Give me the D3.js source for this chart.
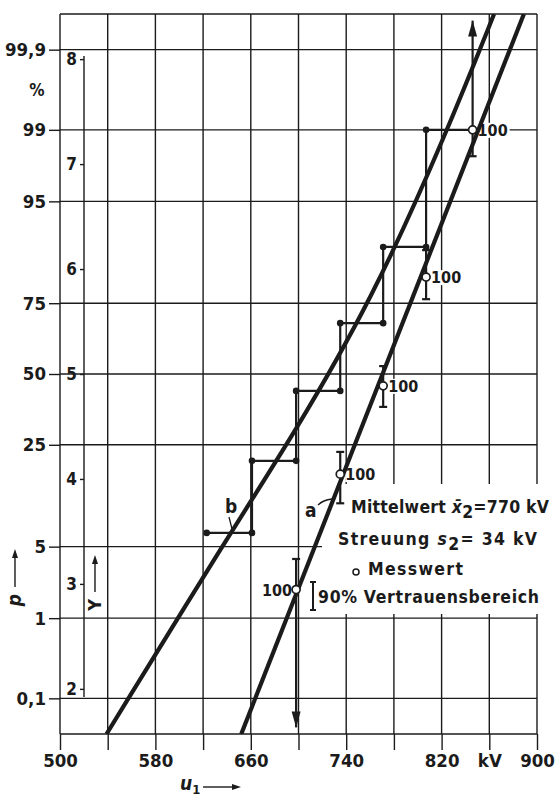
<!DOCTYPE html>
<html><head><meta charset="utf-8">
<script src="https://cdn.jsdelivr.net/npm/d3@7"></script>
<style>
body{margin:0;background:#fff}
svg{display:block}
text{font-family:"DejaVu Sans Condensed","DejaVu Sans",sans-serif;fill:#1b1b1b;font-weight:bold}
</style>
</head><body>
<svg id="c" width="555" height="797"></svg>
<script>
// ---- data ----
const uTicks=[500,540,580,620,660,700,740,780,820,860,900];
const uLabels=["500","","580","","660","","740","","820","kV","900"];
const pTicks=[0.1,1,5,25,50,75,95,99,99.9];
const pLabels=["0,1","1","5","25","50","75","95","99","99,9"];
const yTicks=[2,3,4,5,6,7,8];
// fitted lines (u in kV, Y in probit units)
const lineAU=[652,889];
const lineAY=[1.57,8.43];
const lineBU=[539,643,693,762,825,864];
const lineBY=[1.57,3.49,4.37,5.71,7.32,8.43];
// staircase (empirical sum curve)
const stepU=[623,661,698,735,771,807,846];
const stepP=[6.5,20.4,43.6,68.6,88.7,99.0];
// measured values with 90% confidence ranges
const measU=[698,735,771,807,846];
const measP=[2.0,17,45.5,82.2,99.0];
const ciLowP=[0.038,10.9,37.7,76.2,98.1];
const ciHighP=[3.9,22.9,53,88.1,99.962];
const ciArrow=["low",null,null,null,"high"];
const measN=["100","100","100","100","100"];
const labelSide=["left","right","right","right","right"];

// ---- helpers ----
function invNorm(p){
 const a=[-3.969683028665376e+01,2.209460984245205e+02,-2.759285104469687e+02,1.383577518672690e+02,-3.066479806614716e+01,2.506628277459239e+00];
 const b=[-5.447609879822406e+01,1.615858368580409e+02,-1.556989798598866e+02,6.680131188771972e+01,-1.328068155288572e+01];
 const c=[-7.784894002430293e-03,-3.223964580411365e-01,-2.400758277161838e+00,-2.549732539343734e+00,4.374664141464968e+00,2.938163982698783e+00];
 const d=[7.784695709041462e-03,3.224671290700398e-01,2.445134137142996e+00,3.754408661907416e+00];
 const pl=0.02425,ph=1-pl;let q,r;
 if(p<pl){q=Math.sqrt(-2*Math.log(p));return (((((c[0]*q+c[1])*q+c[2])*q+c[3])*q+c[4])*q+c[5])/((((d[0]*q+d[1])*q+d[2])*q+d[3])*q+1);}
 if(p<=ph){q=p-0.5;r=q*q;return (((((a[0]*r+a[1])*r+a[2])*r+a[3])*r+a[4])*r+a[5])*q/(((((b[0]*r+b[1])*r+b[2])*r+b[3])*r+b[4])*r+1);}
 q=Math.sqrt(-2*Math.log(1-p));return -(((((c[0]*q+c[1])*q+c[2])*q+c[3])*q+c[4])*q+c[5])/((((d[0]*q+d[1])*q+d[2])*q+d[3])*q+1);
}
const probit=p=>5+invNorm(p/100);

const svg=d3.select("#c");
const ink="#1b1b1b";
const FONT='"DejaVu Sans Condensed","DejaVu Sans",sans-serif';
const x=d3.scaleLinear().domain([500,900]).range([60,537]);
const y=d3.scaleLinear().domain([1.57,8.43]).range([734,14]);
const yp=p=>y(probit(p));
const L=60,R=537,T=14,B=734;

svg.append("defs").append("clipPath").attr("id","clip")
 .append("rect").attr("x",L).attr("y",T).attr("width",R-L).attr("height",B-T);

// ---- grid ----
const grid=svg.append("g").attr("stroke",ink).attr("stroke-width",1.4);
grid.selectAll("line.v").data(uTicks).join("line")
 .attr("x1",d=>x(d)).attr("x2",d=>x(d)).attr("y1",T).attr("y2",B);
grid.selectAll("line.h").data(pTicks).join("line")
 .attr("x1",L).attr("x2",R).attr("y1",d=>yp(d)).attr("y2",d=>yp(d));
grid.append("line").attr("x1",L).attr("x2",R).attr("y1",T).attr("y2",T);
grid.append("line").attr("x1",L).attr("x2",R).attr("y1",B).attr("y2",B);

// ---- axes ----
const gx=svg.append("g").attr("transform",`translate(0,${B})`)
 .call(d3.axisBottom(x).tickValues(uTicks).tickFormat((d,i)=>uLabels[i]).tickSize(16).tickPadding(4));
const gp=svg.append("g").attr("transform",`translate(${L},0)`)
 .call(d3.axisLeft(y).tickValues(pTicks.map(probit)).tickFormat((d,i)=>pLabels[i]).tickSize(11).tickPadding(3));
const gy=svg.append("g").attr("transform",`translate(84,0)`)
 .call(d3.axisLeft(y).tickValues(yTicks).tickFormat(d3.format("d")).tickSize(4).tickPadding(3));
[gx,gp,gy].forEach(g=>{
 g.select(".domain").remove();
 g.selectAll(".tick line").attr("stroke",ink).attr("stroke-width",1.4);
 g.selectAll(".tick text").attr("fill",ink).style("font-family",FONT).style("font-weight","bold");
});
gx.selectAll(".tick text").style("font-size","18.5px");
gp.selectAll(".tick text").style("font-size","18.5px");
gy.selectAll(".tick text").style("font-size","17px");
svg.append("line").attr("x1",84).attr("x2",84).attr("y1",56).attr("y2",697).attr("stroke",ink).attr("stroke-width",1.4);
svg.append("text").attr("x",37).attr("y",96).attr("text-anchor","middle").style("font-size","17px").text("%");

// ---- white backgrounds (legend & labels) ----
const bg=svg.append("g").attr("fill","#fff");
bg.append("rect").attr("x",322).attr("y",484).attr("width",233).attr("height",130);

// ---- data layer ----
const data=svg.append("g").attr("clip-path","url(#clip)");
data.append("path").attr("d",d3.line().x(d=>x(d[0])).y(d=>y(d[1]))(lineAU.map((u,i)=>[u,lineAY[i]])))
 .attr("fill","none").attr("stroke",ink).attr("stroke-width",4.2);
data.append("path").attr("d",d3.line().curve(d3.curveBasis).x(d=>x(d[0])).y(d=>y(d[1]))(lineBU.map((u,i)=>[u,lineBY[i]])))
 .attr("fill","none").attr("stroke",ink).attr("stroke-width",4.2).attr("stroke-linejoin","round");

// staircase
const stair=[];
stepP.forEach((p,i)=>{stair.push([stepU[i],p]);stair.push([stepU[i+1],p]);});
data.append("path").attr("d",d3.line().x(d=>x(d[0])).y(d=>yp(d[1]))(stair))
 .attr("fill","none").attr("stroke",ink).attr("stroke-width",2.2);
data.selectAll("circle.dot").data(stair.slice(0,-1)).join("circle")
 .attr("cx",d=>x(d[0])).attr("cy",d=>yp(d[1])).attr("r",3.3).attr("fill",ink);

// error bars
const eb=svg.append("g").attr("stroke",ink).attr("stroke-width",2.2).attr("fill",ink);
measU.forEach((u,i)=>{
 const cx=x(u),y1=yp(ciLowP[i]),y2=yp(ciHighP[i]);
 eb.append("line").attr("x1",cx).attr("x2",cx).attr("y1",y1).attr("y2",y2);
 if(ciArrow[i]!=="low") eb.append("line").attr("x1",cx-4).attr("x2",cx+4).attr("y1",y1).attr("y2",y1);
 else eb.append("path").attr("stroke","none").attr("d",`M${cx},${y1}L${cx-4.5},${y1-16}L${cx+4.5},${y1-16}Z`);
 if(ciArrow[i]!=="high") eb.append("line").attr("x1",cx-4).attr("x2",cx+4).attr("y1",y2).attr("y2",y2);
 else eb.append("path").attr("stroke","none").attr("d",`M${cx},${y2}L${cx-4.5},${y2+16}L${cx+4.5},${y2+16}Z`);
});
svg.selectAll("circle.meas").data(measU).join("circle")
 .attr("cx",d=>x(d)).attr("cy",(d,i)=>yp(measP[i])).attr("r",4)
 .attr("fill","#fff").attr("stroke",ink).attr("stroke-width",1.7);

// labels "100"
measU.forEach((u,i)=>{
 const left=labelSide[i]==="left";
 const t=svg.append("text").attr("x",left?x(u)-4:x(u)+5).attr("y",yp(measP[i])+6)
  .attr("text-anchor",left?"end":"start").style("font-size","16px").text(measN[i]);
 const bb=t.node().getBBox();
 bg.append("rect").attr("x",bb.x).attr("y",bb.y+2).attr("width",bb.width+2).attr("height",bb.height-4);
});

// curve labels
svg.append("text").attr("x",305).attr("y",517).style("font-size","19px").text("a");
svg.append("path").attr("d","M318,505 Q323,500 332,499").attr("fill","none").attr("stroke",ink).attr("stroke-width",1.3);
svg.append("text").attr("x",225).attr("y",513).style("font-size","19px").text("b");
svg.append("path").attr("d","M229,517 L232,529").attr("fill","none").attr("stroke",ink).attr("stroke-width",1.3);

// legend
const lg=svg.append("g").style("font-size","17.5px");
const t1=lg.append("text").attr("x",351).attr("y",513).attr("textLength",198).attr("lengthAdjust","spacing");
t1.append("tspan").text("Mittelwert ");
t1.append("tspan").style("font-style","italic").text("x\u0304");
t1.append("tspan").attr("dy",5).text("2");
t1.append("tspan").attr("dy",-5).text("=770 kV");
const t2=lg.append("text").attr("x",338).attr("y",545).attr("textLength",199).attr("lengthAdjust","spacing");
t2.append("tspan").text("Streuung ");
t2.append("tspan").style("font-style","italic").text("s");
t2.append("tspan").attr("dy",5).text("2");
t2.append("tspan").attr("dy",-5).text("= 34 kV");
lg.append("circle").attr("cx",356).attr("cy",572).attr("r",3).attr("fill","#fff").attr("stroke",ink).attr("stroke-width",1.5);
lg.append("text").attr("x",368).attr("y",575).attr("textLength",95).attr("lengthAdjust","spacing").text("Messwert");
lg.append("path").attr("d","M310,582H316M313,582V610M310,610H316").attr("stroke",ink).attr("stroke-width",2).attr("fill","none");
lg.append("text").attr("x",318).attr("y",603).attr("textLength",221).attr("lengthAdjust","spacing").text("90% Vertrauensbereich");

// axis titles
const ar=svg.append("g").attr("stroke",ink).attr("stroke-width",1.4).attr("fill",ink);
svg.append("text").attr("transform","translate(21,600) rotate(-90)").attr("text-anchor","middle")
 .style("font-size","19px").style("font-style","italic").text("p");
ar.append("line").attr("x1",15).attr("x2",15).attr("y1",587).attr("y2",556);
ar.append("path").attr("stroke","none").attr("d","M15,549L12,558L18,558Z");
svg.append("text").attr("transform","translate(101,605) rotate(-90)").attr("text-anchor","middle")
 .style("font-size","18px").text("Y");
ar.append("line").attr("x1",95).attr("x2",95).attr("y1",592).attr("y2",562);
ar.append("path").attr("stroke","none").attr("d","M95,555L92,564L98,564Z");
const ut=svg.append("text").attr("x",180).attr("y",790).style("font-size","19px");
ut.append("tspan").style("font-style","italic").text("u");
ut.append("tspan").attr("dy",4).style("font-size","13px").text("1");
ar.append("line").attr("x1",203).attr("x2",234).attr("y1",787).attr("y2",787);
ar.append("path").attr("stroke","none").attr("d","M241,787L232,784L232,790Z");
</script>
</body></html>
